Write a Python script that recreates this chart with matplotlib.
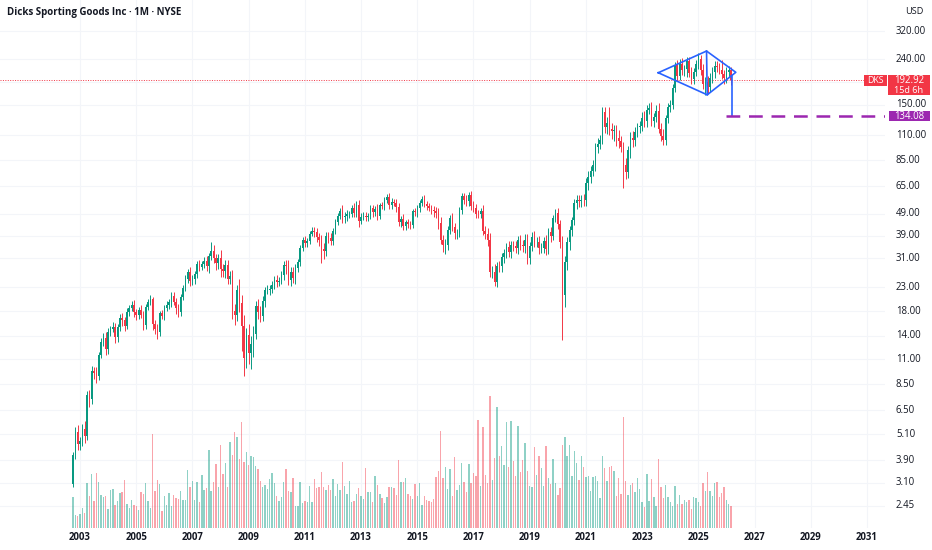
"""DKS monthly candles (log scale) with volume overlay and a diamond pattern drawing."""
import numpy as np
import matplotlib
matplotlib.use("Agg")
import matplotlib.pyplot as plt
from matplotlib.patches import Rectangle
from matplotlib.transforms import blended_transform_factory

plt.rcParams['font.family'] = ['Open Sans', 'DejaVu Sans']

W, H = 932, 550
UP, DOWN = '#089981', '#F23645'
BLUE, PURPLE = '#2962FF', '#9C27B0'
TXT = '#131722'

# ---- monthly closes, Oct 2002 .. Mar 2026 ----
first_open = 3.05
c2002 = [4.1, 5.2, 4.6]
c2003 = [4.75, 5.4, 5.0, 7.6, 7.3, 9.8, 9.6, 9.3, 11.5, 13.2, 13.7, 12.2]
c2004 = [14.6, 15.0, 15.3, 13.8, 15.3, 16.8, 16.4, 15.4, 17.9, 18.6, 19.2, 17.8]
c2005 = [17.3, 18.2, 17.4, 15.6, 18.9, 19.9, 20.4, 15.8, 15.0, 14.6, 17.6, 17.1]
c2006 = [18.6, 19.2, 19.8, 21.0, 19.9, 18.6, 17.9, 20.8, 22.9, 25.2, 26.9, 24.6]
c2007 = [25.0, 26.5, 29.3, 28.4, 29.3, 30.2, 28.7, 31.6, 33.6, 31.0, 29.5, 31.2]
c2008 = [27.7, 27.2, 29.0, 25.0, 25.8, 18.0, 17.4, 22.5, 19.6, 15.4, 11.2, 14.1]
c2009 = [11.7, 12.8, 14.3, 19.0, 17.9, 17.2, 20.1, 22.3, 22.4, 22.7, 23.5, 24.9]
c2010 = [24.2, 24.5, 26.1, 29.1, 28.7, 24.9, 27.0, 25.3, 28.0, 30.0, 34.5, 37.5]
c2011 = [36.3, 37.0, 40.0, 41.0, 40.5, 38.5, 37.3, 34.0, 33.5, 39.1, 38.3, 36.9]
c2012 = [41.2, 45.0, 48.1, 50.5, 47.5, 48.0, 48.9, 49.0, 51.9, 49.6, 53.8, 45.5]
c2013 = [47.5, 48.0, 47.3, 47.8, 51.8, 50.0, 51.5, 48.0, 53.4, 53.0, 56.5, 58.0]
c2014 = [53.6, 55.5, 54.6, 52.5, 44.9, 46.6, 43.0, 44.8, 43.9, 43.8, 50.2, 49.7]
c2015 = [51.8, 54.8, 57.0, 53.9, 53.3, 51.8, 50.7, 50.3, 49.6, 44.6, 37.4, 35.4]
c2016 = [35.5, 41.4, 46.8, 42.9, 40.1, 40.3, 50.9, 58.6, 56.7, 55.6, 59.2, 53.1]
c2017 = [51.8, 49.1, 48.7, 50.6, 41.0, 39.8, 37.4, 26.9, 27.0, 24.4, 28.8, 28.7]
c2018 = [31.4, 32.6, 35.0, 33.1, 35.7, 35.3, 34.6, 37.5, 35.5, 35.3, 37.5, 31.2]
c2019 = [35.3, 38.7, 36.8, 36.8, 34.5, 34.6, 37.2, 34.1, 40.8, 39.0, 46.7, 49.5]
c2020 = [44.2, 36.8, 21.3, 29.9, 36.5, 41.3, 45.8, 54.6, 56.3, 56.1, 56.7, 56.2]
c2021 = [67.3, 71.4, 76.2, 81.0, 97.7, 100.2, 104.8, 139.8, 119.8, 124.3, 117.6, 115.0]
c2022 = [115.4, 106.9, 103.0, 97.0, 80.5, 75.3, 94.4, 106.6, 104.6, 113.9, 119.9, 120.3]
c2023 = [130.9, 127.3, 141.9, 145.0, 127.5, 132.2, 141.1, 116.8, 108.6, 104.5, 130.7, 147.0]
c2024 = [149.0, 177.7, 224.9, 200.9, 228.3, 214.8, 216.0, 234.1, 208.7, 195.2, 210.5, 228.8]
c2025 = [240.4, 215.0, 185.0, 190.0, 180.0, 198.0, 210.0, 224.0, 222.0, 215.0, 205.0, 198.0]
c2026 = [210.0, 214.0, 192.92]

# wick length beyond the body, % (upper / lower)
up2002 = [3, 6, 8]
dn2002 = [3, 4, 6]
up2003 = [4, 5, 8, 4, 6, 5, 4, 6, 3, 4, 5, 6]
dn2003 = [6, 5, 7, 4, 8, 5, 6, 7, 4, 3, 5, 6]
up2004 = [4, 3, 5, 4, 3, 4, 5, 3, 4, 3, 4, 5]
dn2004 = [5, 4, 3, 6, 5, 4, 6, 5, 3, 4, 3, 5]
up2005 = [4, 3, 5, 4, 3, 3, 4, 2, 4, 5, 3, 4]
dn2005 = [5, 4, 3, 5, 4, 3, 4, 6, 5, 7, 4, 3]
up2006 = [3, 4, 3, 4, 5, 4, 4, 3, 3, 4, 3, 5]
dn2006 = [4, 3, 4, 5, 4, 6, 5, 4, 3, 3, 4, 5]
up2007 = [4, 3, 3, 4, 3, 4, 5, 4, 9, 6, 5, 4]
dn2007 = [4, 5, 4, 4, 3, 4, 5, 7, 4, 5, 7, 6]
up2008 = [8, 6, 5, 5, 6, 7, 8, 5, 12, 9, 12, 8]
dn2008 = [8, 6, 7, 5, 5, 8, 10, 6, 9, 22, 17, 10]
up2009 = [12, 9, 8, 5, 7, 6, 5, 4, 5, 4, 5, 4]
dn2009 = [10, 15, 12, 5, 7, 6, 5, 6, 4, 5, 4, 4]
up2010 = [5, 4, 4, 4, 5, 6, 5, 5, 4, 3, 3, 3]
dn2010 = [5, 4, 3, 5, 8, 5, 6, 5, 6, 4, 4, 3]
up2011 = [4, 3, 3, 4, 4, 5, 5, 6, 7, 4, 4, 5]
dn2011 = [4, 4, 3, 3, 5, 5, 6, 13, 8, 5, 5, 4]
up2012 = [3, 3, 3, 3, 6, 4, 4, 3, 3, 5, 4, 5]
dn2012 = [4, 3, 3, 3, 6, 6, 5, 4, 3, 4, 4, 6]
up2013 = [4, 4, 4, 3, 3, 4, 3, 5, 3, 4, 3, 3]
dn2013 = [3, 3, 4, 4, 3, 5, 4, 4, 3, 3, 4, 3]
up2014 = [5, 4, 3, 4, 4, 3, 5, 3, 4, 4, 3, 4]
dn2014 = [4, 4, 3, 5, 4, 5, 4, 4, 4, 4, 3, 4]
up2015 = [3, 3, 3, 4, 4, 3, 4, 5, 4, 5, 6, 5]
dn2015 = [5, 4, 3, 3, 4, 3, 4, 6, 5, 6, 4, 7]
up2016 = [6, 4, 3, 6, 4, 4, 3, 3, 4, 5, 3, 5]
dn2016 = [8, 5, 4, 4, 6, 6, 4, 4, 4, 5, 5, 4]
up2017 = [5, 5, 4, 3, 6, 5, 6, 8, 6, 8, 4, 5]
dn2017 = [4, 4, 4, 4, 4, 5, 6, 5, 6, 4, 5, 6]
up2018 = [4, 5, 4, 6, 4, 4, 5, 4, 5, 5, 6, 6]
dn2018 = [6, 6, 5, 5, 6, 5, 5, 6, 5, 6, 7, 6]
up2019 = [4, 5, 6, 5, 6, 5, 4, 6, 4, 5, 4, 4]
dn2019 = [6, 5, 5, 5, 6, 5, 5, 6, 5, 6, 4, 4]
up2020 = [5, 4, 6, 6, 6, 5, 4, 4, 6, 6, 5, 6]
dn2020 = [5, 6, 37, 12, 8, 7, 6, 5, 6, 6, 6, 6]
up2021 = [5, 6, 5, 5, 4, 6, 5, 5, 5, 6, 18, 6]
dn2021 = [6, 7, 6, 5, 6, 6, 5, 4, 6, 7, 6, 8]
up2022 = [6, 6, 8, 6, 6, 8, 4, 6, 8, 5, 4, 6]
dn2022 = [10, 8, 7, 5, 21, 7, 6, 8, 7, 6, 5, 6]
up2023 = [6, 7, 5, 5, 6, 4, 6, 8, 6, 8, 3, 4]
dn2023 = [5, 6, 6, 4, 5, 6, 5, 4, 5, 5, 5, 5]
up2024 = [6, 5, 4, 6, 5, 6, 5, 5, 5, 6, 4, 4]
dn2024 = [5, 4, 4, 5, 4, 5, 6, 8, 4, 5, 5, 4]
up2025 = [6, 4, 6, 5, 6, 5, 5, 5, 5, 4, 11, 5]
dn2025 = [5, 5, 5, 10, 7, 5, 5, 6, 5, 4, 5, 6]
up2026 = [5, 4, 3]
dn2026 = [5, 5, 5]

# monthly volume (millions of shares, approx.)
volume = [
    31, 13, 12, 14, 20, 15, 45, 32, 54, 27, 55, 46, 33, 31, 32, 19, 38, 39, 23, 27,
    35, 36, 48, 24, 20, 28, 23, 22, 18, 36, 34, 45, 27, 20, 94, 37, 48, 44, 17, 32,
    23, 35, 22, 33, 30, 29, 37, 28, 28, 58, 41, 47, 28, 46, 26, 53, 38, 40, 78, 37,
    46, 64, 41, 83, 54, 65, 41, 86, 73, 96, 91, 69, 106, 66, 76, 63, 72, 71, 62, 59,
    47, 41, 43, 39, 49, 55, 45, 32, 27, 31, 46, 59, 37, 36, 50, 22, 22, 46, 25, 27,
    26, 42, 26, 49, 40, 41, 56, 41, 38, 43, 38, 49, 32, 44, 38, 66, 42, 34, 47, 26,
    27, 34, 40, 32, 29, 60, 36, 36, 26, 52, 43, 34, 30, 25, 31, 41, 41, 40, 33, 68,
    46, 46, 50, 34, 32, 29, 44, 32, 45, 23, 32, 28, 27, 26, 29, 51, 57, 97, 50, 61,
    39, 59, 32, 71, 38, 43, 65, 46, 36, 64, 45, 55, 52, 108, 42, 101, 53, 45, 132, 48,
    70, 121, 72, 82, 63, 106, 61, 107, 67, 52, 102, 56, 68, 85, 57, 42, 41, 81, 53, 72,
    60, 42, 82, 50, 44, 69, 45, 33, 40, 83, 91, 72, 83, 52, 77, 65, 48, 72, 61, 51,
    52, 37, 51, 52, 47, 30, 72, 60, 47, 61, 62, 57, 32, 50, 34, 111, 47, 33, 43, 45,
    36, 50, 39, 26, 21, 54, 27, 49, 31, 22, 69, 41, 30, 43, 31, 26, 22, 42, 24, 33,
    24, 28, 26, 28, 19, 31, 30, 26, 22, 45, 37, 56, 37, 32, 45, 46, 31, 35, 41, 28,
    24, 22,
]

price_ticks = [2.45, 3.10, 3.90, 5.10, 6.50, 8.50, 11, 14, 18, 23, 31, 39, 49, 65, 85,
               110, 150, 240, 320]
year_ticks = list(range(2003, 2032, 2))

last_price = 192.92
countdown = "15d 6h"
# diamond drawing: vertices as (month index from Oct 2002, price)
diamond_idx = [249.9, 270.5, 283.0, 270.8, 249.9]
diamond_price = [208.5, 260.5, 209.4, 166.2, 208.5]
target_idx = 281.2
target_from = 201.6
target_price = 134.08

close = np.array(c2002 + c2003 + c2004 + c2005 + c2006 + c2007 + c2008 + c2009 + c2010
                 + c2011 + c2012 + c2013 + c2014 + c2015 + c2016 + c2017 + c2018 + c2019
                 + c2020 + c2021 + c2022 + c2023 + c2024 + c2025 + c2026)
upw = np.array(up2002 + up2003 + up2004 + up2005 + up2006 + up2007 + up2008 + up2009
               + up2010 + up2011 + up2012 + up2013 + up2014 + up2015 + up2016 + up2017
               + up2018 + up2019 + up2020 + up2021 + up2022 + up2023 + up2024 + up2025
               + up2026) / 100
dnw = np.array(dn2002 + dn2003 + dn2004 + dn2005 + dn2006 + dn2007 + dn2008 + dn2009
               + dn2010 + dn2011 + dn2012 + dn2013 + dn2014 + dn2015 + dn2016 + dn2017
               + dn2018 + dn2019 + dn2020 + dn2021 + dn2022 + dn2023 + dn2024 + dn2025
               + dn2026) / 100
vol = np.array(volume, dtype=float)

n = len(close)
idx = np.arange(n)
opn = np.concatenate([[first_open], close[:-1]])
top = np.maximum(opn, close)
bot = np.minimum(opn, close)
high = top * (1 + upw)
low = bot * (1 - dnw)
col = np.where(close >= opn, UP, DOWN)

# ---- layout (pixel based, matches the screenshot) ----
fig = plt.figure(figsize=(W / 100, H / 100), dpi=100)
fig.patch.set_facecolor('white')
rect = [0, 22 / H, 885 / W, 528 / H]
XLIM = (-31.17, 346.7)          # month index at left / right pane edge
YLIM = (1.945, 440.0)

axg = fig.add_axes(rect)
axv = fig.add_axes(rect)
ax = fig.add_axes(rect)
for a in (axg, axv, ax):
    a.set_xlim(*XLIM)
    a.set_axis_off()
axv.patch.set_alpha(0)
ax.patch.set_alpha(0)
for a in (axg, ax):
    a.set_yscale('log')
    a.set_ylim(*YLIM)
axv.set_ylim(0, 528)

# grid
jan = [3 + 12 * (y - 2003) for y in year_ticks]
for x in jan:
    axg.axvline(x, color='#f3f5f9', lw=0.8, zorder=0)
for p in price_ticks + [190]:
    axg.axhline(p, color='#f3f5f9', lw=0.8, zorder=0)

# volume
axv.bar(idx, vol, width=0.6, color=col, alpha=0.45, linewidth=0)

# candles
ax.vlines(idx, low, high, colors=col, lw=0.7, zorder=2)
ax.bar(idx, top - bot, bottom=bot, width=0.65, color=col, linewidth=0, zorder=3)

# last price line
ax.axhline(last_price, color=DOWN, lw=0.7, ls=(0, (1, 1.5)), zorder=1)

# diamond pattern
ax.plot(diamond_idx, diamond_price, color=BLUE, lw=1.2, zorder=4)
ax.plot([diamond_idx[1], diamond_idx[3]], [diamond_price[1], diamond_price[3]],
        color=BLUE, lw=1.2, zorder=4)
ax.plot([target_idx, target_idx], [target_from, target_price], color=BLUE, lw=1.2, zorder=4)
ax.plot([target_idx - 2.2, XLIM[1]], [target_price, target_price], color=PURPLE, lw=1.8,
        ls=(0, (5.5, 3.5)), zorder=4)

# ---- text ----
fig.text(7 / W, 1 - 13 / H, "Dicks Sporting Goods Inc · 1M · NYSE", fontsize=7.0,
         fontweight='bold', color=TXT, ha='left', va='center')
fig.text(914 / W, 1 - 12 / H, "USD", fontsize=6.6, color=TXT, ha='center', va='center')

ty = blended_transform_factory(fig.transFigure, ax.transData)
for p in price_ticks:
    ax.text(896 / W, p, f"{p:.2f}", transform=ty, fontsize=6.9, color=TXT,
            ha='left', va='center', clip_on=False)

tx = blended_transform_factory(ax.transData, fig.transFigure)
for y, x in zip(year_ticks, jan):
    ax.text(x, 1 - 537 / H, str(y), transform=tx, fontsize=6.9, fontweight='bold',
            color=TXT, ha='center', va='center', clip_on=False)


def py(p):
    """price -> pixel y from top"""
    return H - ax.transData.transform((0, p))[1]


def box(x0, y0, x1, y1, color):
    fig.patches.append(Rectangle((x0 / W, 1 - y1 / H), (x1 - x0) / W, (y1 - y0) / H,
                                 transform=fig.transFigure, color=color, lw=0, zorder=5))


yl = py(last_price)
box(864, yl - 5, 887, yl + 5.5, DOWN)
box(888, yl - 5, 930, yl + 14.5, DOWN)
fig.text(875.5 / W, 1 - (yl + 0.3) / H, "DKS", fontsize=6.3, color='white',
         ha='center', va='center', zorder=6)
fig.text(909 / W, 1 - (yl + 0.3) / H, f"{last_price:.2f}", fontsize=6.9, color='white',
         ha='center', va='center', zorder=6)
fig.text(909 / W, 1 - (yl + 9.8) / H, countdown, fontsize=6.6, color='white',
         ha='center', va='center', zorder=6)

yt = py(target_price)
box(889, yt - 5, 930, yt + 5, PURPLE)
fig.text(909.5 / W, 1 - (yt + 0.3) / H, f"{target_price:.2f}", fontsize=6.9, color='white',
         ha='center', va='center', zorder=6)

fig.savefig("out.png", dpi=100)
